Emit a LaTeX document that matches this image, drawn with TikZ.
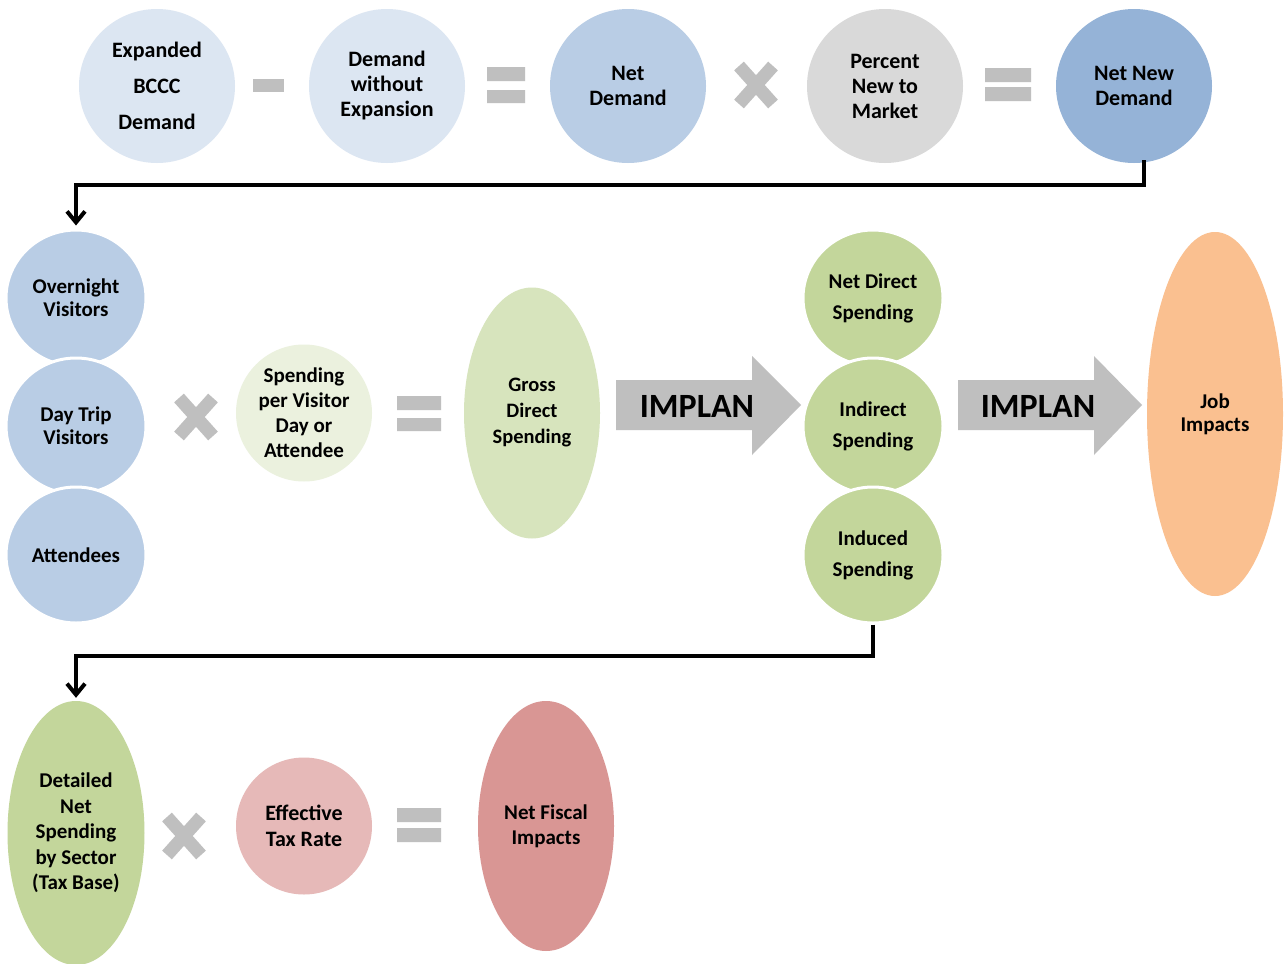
\documentclass[tikz,border=0pt]{standalone}
\usepackage{fontspec}
\setmainfont{Carlito}
\usetikzlibrary{arrows.meta, shapes.geometric, positioning}

\definecolor{paleblue}{HTML}{DCE6F2}
\definecolor{midblue}{HTML}{B9CDE5}
\definecolor{deepblue}{HTML}{95B3D7}
\definecolor{lightgrey}{HTML}{D9D9D9}
\definecolor{opgrey}{HTML}{BFBFBF}
\definecolor{palegreen}{HTML}{EBF1DE}
\definecolor{softgreen}{HTML}{D7E4BD}
\definecolor{leafgreen}{HTML}{C3D69B}
\definecolor{peach}{HTML}{FAC090}
\definecolor{blush}{HTML}{E6B9B8}
\definecolor{rose}{HTML}{D99694}

\tikzset{
  bubble/.style={ellipse, inner sep=0pt, align=center,
    font=\bfseries\fontsize{21}{25}\selectfont},
  topbub/.style={bubble, minimum width=156pt, minimum height=154pt, font=\bfseries\fontsize{22}{25}\selectfont},
  stackbub/.style={bubble, draw=white, line width=3pt, minimum width=140pt, minimum height=136pt,
    font=\bfseries\fontsize{21}{23}\selectfont},
  opbar/.style={fill=opgrey},
  crossbar/.style={draw=opgrey, line width=13pt},
  link/.style={line width=4pt, shorten >=3pt, -{Straight Barb[length=11pt, width=18pt]}},
  bigarrow/.style={fill=opgrey},
  arrowtext/.style={font=\bfseries\fontsize{34}{34}\selectfont},
}

\begin{document}
\begin{tikzpicture}[x=1pt, y=-1pt]
    \fill[white] (0,0) rectangle (1286,964);
    \useasboundingbox (0,0) rectangle (1286,964);

    % First row: demand
    \node[topbub, fill=paleblue] (exp) at (157,86) {Expanded\\[11pt]BCCC\\[11pt]Demand};
    \node[topbub, fill=paleblue] (wout) at (387,86) {Demand\\without\\Expansion};
    \node[topbub, fill=midblue] (netd) at (628,86) {Net\\Demand};
    \node[topbub, fill=lightgrey] (pct) at (885,86) {Percent\\New to\\Market};
    \node[topbub, fill=deepblue] (nnd) at (1134,86) {Net New\\Demand};

    % operators of the first row
    \fill[opbar] (253,79) rectangle (284,92);
    \fill[opbar] (487,67) rectangle (525,81) (487,90) rectangle (525,103);
    \begin{scope}[shift={(756,85)}]
        \draw[crossbar] (-17,-19) -- (17,19) (-17,19) -- (17,-19);
    \end{scope}
    \fill[opbar] (985,68) rectangle (1031,82) (985,87) rectangle (1031,101);

    % Second row: visitors and spending
    \node[stackbub, fill=midblue] (ovn) at (76,298) {Overnight\\Visitors};
    \node[stackbub, fill=midblue] (day) at (76,426) {Day Trip\\Visitors};
    \node[stackbub, fill=midblue] (att) at (76,555) {Attendees};
    \begin{scope}[shift={(196,417)}]
        \draw[crossbar] (-17,-19) -- (17,19) (-17,19) -- (17,-19);
    \end{scope}
    \node[bubble, fill=palegreen, minimum width=136pt, minimum height=137pt] (spv) at (304,413)
        {Spending\\per Visitor\\Day or\\Attendee};
    \fill[opbar] (397,396) rectangle (441,410) (397,418) rectangle (441,431);
    \node[bubble, fill=softgreen, minimum width=136pt, minimum height=251pt,
        font=\bfseries\fontsize{20.5}{26}\selectfont] (gds) at (532,413) {Gross\\Direct\\Spending};

    % IMPLAN arrows
    \fill[bigarrow] (616,380) -- (752,380) -- (752,356) -- (801,405) -- (752,455) -- (752,430) -- (616,430) -- cycle;
    \node[arrowtext] (imp1) at (697,406) {IMPLAN};
    \fill[bigarrow] (958,380) -- (1094,380) -- (1094,356) -- (1142,405) -- (1094,455) -- (1094,430) -- (958,430) -- cycle;
    \node[arrowtext] (imp2) at (1038,406) {IMPLAN};

    \node[stackbub, fill=leafgreen] (ndir) at (873,298) {Net Direct\\[8pt]Spending};
    \node[stackbub, fill=leafgreen] (indir) at (873,426) {Indirect\\[8pt]Spending};
    \node[stackbub, fill=leafgreen] (indu) at (873,555) {Induced\\[8pt]Spending};
    \node[bubble, fill=peach, minimum width=136pt, minimum height=364pt,
        font=\bfseries\fontsize{21}{23}\selectfont] (job) at (1215,414) {Job\\Impacts};

    % Third row: fiscal
    \node[bubble, fill=leafgreen, minimum width=137pt, minimum height=264pt,
        font=\bfseries\fontsize{21}{25.5}\selectfont] (det) at (76,833)
        {Detailed\\Net\\Spending\\by Sector\\(Tax Base)};
    \begin{scope}[shift={(184,836)}]
        \draw[crossbar] (-17,-19) -- (17,19) (-17,19) -- (17,-19);
    \end{scope}
    \node[bubble, fill=blush, minimum width=136pt, minimum height=137pt,
        font=\bfseries\fontsize{22}{26}\selectfont] (etr) at (304,826)
        {Effective\\Tax Rate};
    \fill[opbar] (397,808) rectangle (441,822) (397,828) rectangle (441,842);
    \node[bubble, fill=rose, minimum width=136pt, minimum height=250pt] (nfi) at (546,826)
        {Net Fiscal\\Impacts};

    % connectors between the rows
    \draw[link] ([xshift=10pt, yshift=3pt]nnd.south) -- ++(0,25) -| (ovn.north);
    \draw[link] (indu.south) -- ++(0,31) -| (det.north);
\end{tikzpicture}
\end{document}
